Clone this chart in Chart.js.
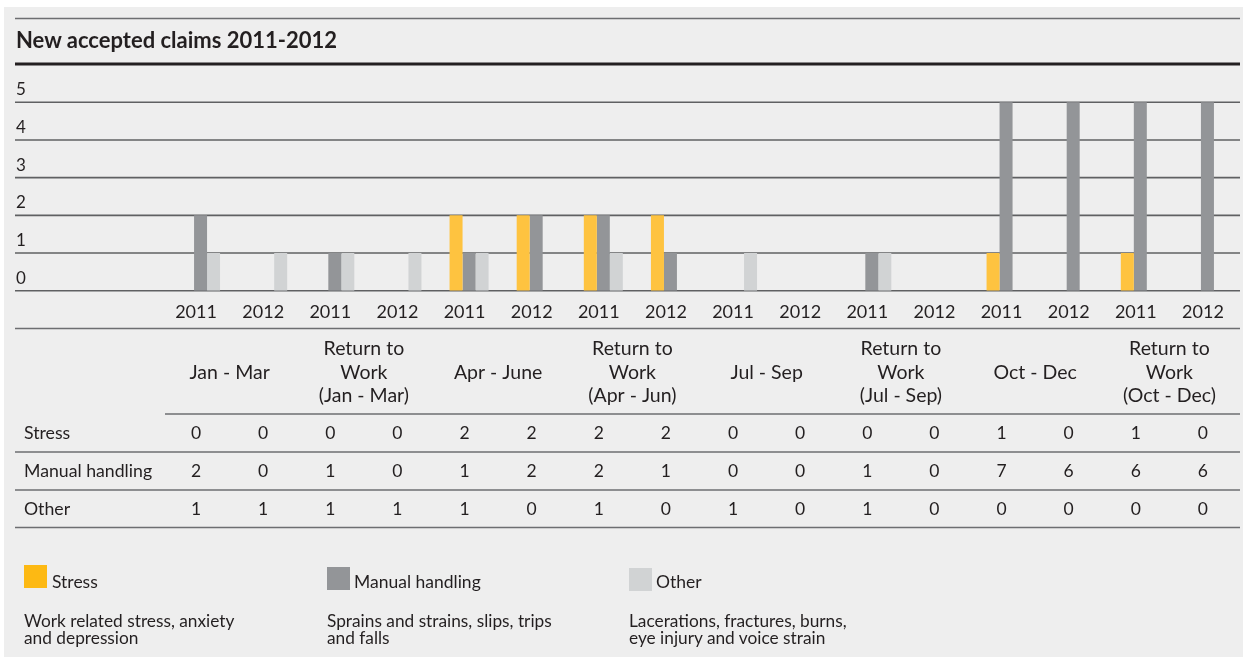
<!DOCTYPE html>
<html>
<head>
<meta charset="utf-8">
<script src="https://cdn.jsdelivr.net/npm/chart.js@4"></script>
<style>
  html, body { margin: 0; padding: 0; background: #ffffff; }
  #wrap { position: relative; width: 1248px; height: 657px; overflow: hidden; }
  #panel { position: absolute; left: 4px; top: 7px; width: 1239px; height: 650px; background: #eeeeee; }
  #chart { position: absolute; left: 0; top: 0; }
  .t { position: absolute; font-family: Lato, "Open Sans", sans-serif; color: #231f20; white-space: pre; }
  .title { left: 16px; top: 29px; font-size: 22px; line-height: 22px; font-weight: 700; }
  .lg { font-size: 17.5px; line-height: 17px; top: 573px; }
  .desc { font-size: 17.3px; line-height: 17px; top: 612px; }
  .sw { position: absolute; width: 23px; height: 23px; }
</style>
</head>
<body>
<div id="wrap">
  <div id="panel"></div>
  <canvas id="chart" width="1248" height="657"></canvas>
  <div class="t title">New accepted claims 2011-2012</div>

  <div class="sw" style="left:24px; top:565px; background:#fdb913;"></div>
  <div class="t lg" style="left:52px;">Stress</div>
  <div class="t desc" style="left:24px;">Work related stress, anxiety
and depression</div>

  <div class="sw" style="left:327px; top:567px; background:#939598;"></div>
  <div class="t lg" style="left:354px;">Manual handling</div>
  <div class="t desc" style="left:327px;">Sprains and strains, slips, trips
and falls</div>

  <div class="sw" style="left:629px; top:568px; background:#d1d3d4;"></div>
  <div class="t lg" style="left:656px;">Other</div>
  <div class="t desc" style="left:629px;">Lacerations, fractures, burns,
eye injury and voice strain</div>
</div>
<script>
// Quarter headings, each spanning a 2011 / 2012 pair of columns
const periods = [
  'Jan - Mar',
  'Return to\nWork\n(Jan - Mar)',
  'Apr - June',
  'Return to\nWork\n(Apr - Jun)',
  'Jul - Sep',
  'Return to\nWork\n(Jul - Sep)',
  'Oct - Dec',
  'Return to\nWork\n(Oct - Dec)'
];
const years = ['2011', '2012', '2011', '2012', '2011', '2012', '2011', '2012',
               '2011', '2012', '2011', '2012', '2011', '2012', '2011', '2012'];

// Claim counts per column
const stress = [0, 0, 0, 0, 2, 2, 2, 2, 0, 0, 0, 0, 1, 0, 1, 0];
const manualHandling = [2, 0, 1, 0, 1, 2, 2, 1, 0, 0, 1, 0, 7, 6, 6, 6];
const other = [1, 1, 1, 1, 1, 0, 1, 0, 1, 0, 1, 0, 0, 0, 0, 0];

const yTicks = [0, 1, 2, 3, 4, 5];

const seriesNames = ['Stress', 'Manual handling', 'Other'];
const tableRows = [stress, manualHandling, other];

const INK = '#231f20';
const FONT = 'Lato, "Open Sans", sans-serif';
const LEFT = 15, RIGHT = 1240;
const LABEL_SHIFT = -4.5; // text columns sit slightly left of the bar groups

function hline(ctx, y, x0, x1, width, color) {
  ctx.save();
  ctx.strokeStyle = color;
  ctx.lineWidth = width;
  ctx.beginPath();
  ctx.moveTo(x0, y);
  ctx.lineTo(x1, y);
  ctx.stroke();
  ctx.restore();
}

const frame = {
  id: 'frame',
  beforeDatasetsDraw(chart) {
    const ctx = chart.ctx;
    const ys = chart.scales.y;
    // heading rules
    hline(ctx, 18.5, LEFT, RIGHT, 1.5, '#6d6e71');
    hline(ctx, 64, LEFT, RIGHT, 3.2, INK);
    // value grid, full width, with the value written above each line
    ctx.save();
    ctx.font = '17px ' + FONT;
    ctx.fillStyle = INK;
    ctx.textAlign = 'left';
    ctx.textBaseline = 'alphabetic';
    yTicks.forEach(v => {
      const y = ys.getPixelForValue(v);
      hline(ctx, y, LEFT, RIGHT, 1.6, '#5f6062');
      ctx.fillText(String(v), 16, y - 7);
    });
    ctx.restore();
  },
  afterDatasetsDraw(chart) {
    const ctx = chart.ctx;
    const xs = chart.scales.x;
    const col = i => xs.getPixelForValue(i) + LABEL_SHIFT;

    ctx.save();
    ctx.fillStyle = INK;
    ctx.textAlign = 'center';
    ctx.textBaseline = 'alphabetic';

    // year labels under the bars
    ctx.font = '18px ' + FONT;
    years.forEach((y, i) => ctx.fillText(y, col(i), 318));

    // table rules
    hline(ctx, 328.5, LEFT, RIGHT, 1.5, '#6d6e71');
    hline(ctx, 414, 165, RIGHT, 1.5, '#6d6e71');
    hline(ctx, 452, LEFT, RIGHT, 1.5, '#6d6e71');
    hline(ctx, 490, LEFT, RIGHT, 1.5, '#6d6e71');
    hline(ctx, 527.5, LEFT, RIGHT, 1.5, '#6d6e71');

    // period headings, centred over each pair of columns
    ctx.font = '19.5px ' + FONT;
    periods.forEach((p, k) => {
      const cx = (col(2 * k) + col(2 * k + 1)) / 2;
      const lines = p.split('\n');
      const lh = 23.5;
      const mid = 378.5;
      const first = mid - (lines.length - 1) / 2 * lh;
      lines.forEach((ln, j) => ctx.fillText(ln, cx, first + j * lh));
    });

    // data rows
    const baselines = [439, 477, 515];
    tableRows.forEach((row, r) => {
      ctx.textAlign = 'left';
      ctx.font = '17.7px ' + FONT;
      ctx.fillText(seriesNames[r], 24, baselines[r]);
      ctx.textAlign = 'center';
      ctx.font = '17.5px ' + FONT;
      row.forEach((v, i) => ctx.fillText(String(v), col(i), baselines[r]));
    });
    ctx.restore();
  }
};

new Chart(document.getElementById('chart'), {
  type: 'bar',
  data: {
    labels: years,
    datasets: [
      { label: seriesNames[0], data: stress, backgroundColor: '#fec340' },
      { label: seriesNames[1], data: manualHandling, backgroundColor: '#939598' },
      { label: seriesNames[2], data: other, backgroundColor: '#d1d3d4' }
    ].map(d => Object.assign(d, {
      borderWidth: 0,
      barPercentage: 1,
      categoryPercentage: 0.581,
      clip: 0
    }))
  },
  options: {
    responsive: false,
    animation: false,
    devicePixelRatio: 1,
    layout: { padding: { left: 167, right: 7, top: 102.3, bottom: 657 - 290.7 } },
    plugins: { legend: { display: false }, tooltip: { enabled: false } },
    scales: {
      x: { display: false },
      y: { display: false, min: 0, max: 5 }
    }
  },
  plugins: [frame]
});
</script>
</body>
</html>
